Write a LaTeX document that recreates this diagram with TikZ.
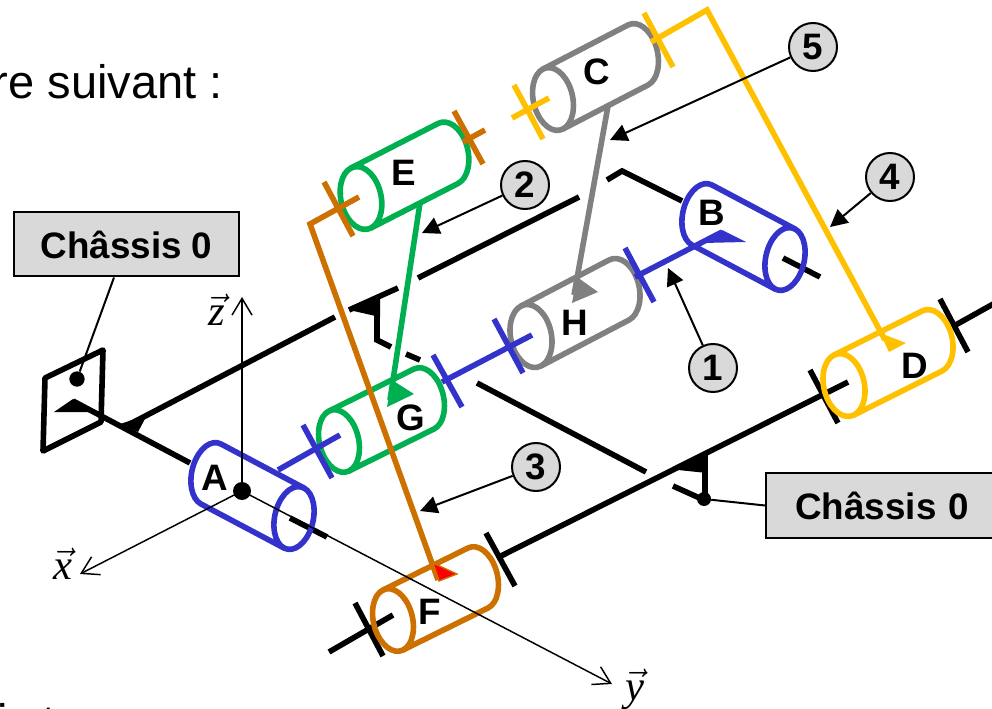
\documentclass[tikz,border=0pt]{standalone}
\usepackage{fix-cm}
\usepackage{fontspec}
\setmainfont{Liberation Sans}
\newfontfamily\tms{Liberation Serif}
\usetikzlibrary{arrows.meta}
\definecolor{cblue}{HTML}{3333CC}
\definecolor{cgreen}{HTML}{00B050}
\definecolor{cgray}{HTML}{808080}
\definecolor{cyellow}{HTML}{FFC000}
\definecolor{corange}{HTML}{CC7000}
\definecolor{cbox}{HTML}{D9D9D9}
\newcommand{\cylbody}[7]{%
  \def\cx{#1}\def\cy{#2}\def\ax{#3}\def\ay{#4}\def\vx{#5}\def\vy{#6}%
  \pgfmathsetmacro{\ux}{0.21*#3}\pgfmathsetmacro{\uy}{0.21*#4}%
  \draw[mech,#7,line join=round]
    \PP{1}{0} .. controls \PP{1}{.5523} and \PP{.5523}{1} .. \PP{0}{1}
    .. controls \PP{-.5523}{1} and \PP{-1}{.5523} .. \PP{-1}{0}
    .. controls \PP{-1}{-.5523} and \PP{-.5523}{-1} .. \PP{0}{-1}
    .. controls \PP{.5523}{-1} and \PP{1}{-.5523} .. \PP{1}{0} -- cycle;
  \draw[mech,#7,line join=round]
    \PP{0}{1} -- \QQ{0}{1}
    .. controls \QQ{.5523}{1} and \QQ{1}{.5523} .. \QQ{1}{0}
    .. controls \QQ{1}{-.5523} and \QQ{.5523}{-1} .. \QQ{0}{-1}
    -- \PP{0}{-1};
}
\def\PP#1#2{({\cx+(#1)*\ux+(#2)*\vx},{\cy+(#1)*\uy+(#2)*\vy})}
\def\QQ#1#2{({\cx+\ax+(#1)*\ux+(#2)*\vx},{\cy+\ay+(#1)*\uy+(#2)*\vy})}
\tikzset{
  mech/.style={line width=4.2pt},
  thinline/.style={line width=1.5pt,black},
  leader/.style={line width=1.5pt,black,-{Triangle[length=13pt,width=13pt]}},
  axisline/.style={line width=1.1pt,black,-{Straight Barb[length=12.5pt,width=15pt,line width=1.1pt]}},
  letter/.style={font=\fontsize{27.6}{30}\selectfont\bfseries,inner sep=0pt},
  numcirc/.style={circle,draw=black,line width=1.5pt,fill=cbox,minimum size=36pt,inner sep=0pt,font=\fontsize{27.6}{30}\selectfont\bfseries},
  chassis/.style={draw=black,line width=1.5pt,fill=cbox,font=\fontsize{27.6}{30}\selectfont\bfseries,inner sep=0pt},
  vecl/.style={font=\fontsize{32}{34}\selectfont,inner sep=0pt},
  plain/.style={font=\fontsize{35.25}{38}\selectfont,inner sep=0pt}
}
\begin{document}
\begin{tikzpicture}[x=0.75pt,y=-0.75pt]
\useasboundingbox (0,0) rectangle (992,709);
% page text
\node[plain,anchor=base east] (topt) at (223,99) {re suivant :};
\node[plain,anchor=base west] (boti) at (-3,737) {i};
\node[plain,anchor=base west] (bott) at (42,738) {t};
% black frame lines
\draw[mech,black,line join=round] (45,378) -- (103,350) -- (101,422) -- (43,451) -- cycle;
\fill[black] (54,412) -- (73,399) -- (100,415) -- (97,412) -- cycle;
\draw[mech,black] (73,401) -- (190,463);
\fill[black] (120,424) -- (147,415) -- (138,432) -- cycle;
\draw[mech,black] (130,424) -- (335,317);
\draw[mech,black] (349,310) -- (398,288);
\fill[black] (349,310) -- (380,298) -- (380,317) -- cycle;
\draw[mech,black] (418,278) -- (579,197);
\draw[mech,black,line join=miter] (607,180) -- (622,171) -- (682,201);
\draw[mech,black,line join=miter] (377,298) -- (377,340) -- (391,347);
\draw[mech,black] (406,354) -- (420,360);
\draw[mech,black] (477,383) -- (646,472);
\draw[mech,black] (673,486) -- (704,500);
\draw[mech,black] (705,455) -- (705,499);
\fill[black] (678,470) -- (707,455) -- (707,473) -- cycle;
\draw[mech,black] (497,558) -- (848,382);
\draw[mech,black] (810,370) -- (838,423);
\draw[mech,black] (486,533) -- (515,586);
\draw[mech,black] (329,652) -- (393,615);
\draw[mech,black] (355,603) -- (383,656);
\draw[mech,black] (952,327) -- (995,303);
\draw[mech,black] (940,299) -- (968,352);
\draw[mech,black] (290,518) -- (327,537);
\draw[mech,black] (783,258) -- (820,277);
% cylinders
\cylbody{294}{518}{-83}{-44}{10}{-30}{cblue}
\cylbody{785}{259}{-83}{-44}{10}{-30}{cblue}
\cylbody{553}{99}{85}{-44}{-10}{-30}{cgray}
\cylbody{361}{198}{87}{-44.5}{-10}{-30}{cgreen}
\cylbody{531}{336}{88}{-46}{-10}{-30}{cgray}
\cylbody{339}{441}{85}{-42}{-10}{-30}{cgreen}
\cylbody{393}{620}{85}{-42}{-10}{-30}{corange}
\cylbody{844}{385}{88}{-44}{-10}{-30}{cyellow}
% blue shaft
\draw[mech,cblue] (278,470) -- (340,435);
\draw[mech,cblue] (303,425) -- (332,478);
\draw[mech,cblue] (442,382) -- (532,335);
\draw[mech,cblue] (433,355) -- (462,407);
\draw[mech,cblue] (494,319) -- (523,373);
\draw[mech,cblue] (635,277) -- (722,232);
\draw[mech,cblue] (625,248) -- (654,302);
\fill[cblue] (703,243) -- (722,230) -- (746,242) -- cycle;
% yellow
\draw[mech,cyellow] (514,85) -- (543,139);
\draw[mech,cyellow] (512,118) -- (549,98);
\draw[mech,cyellow] (644,13) -- (673,67);
\draw[mech,cyellow,line join=miter] (651,42) -- (707,10) -- (885,340);
\fill[cyellow] (880,333) -- (906,343) -- (889,352) -- cycle;
% orange
\draw[mech,corange] (324,182) -- (353,236);
\draw[mech,corange] (454,111) -- (483,164);
\draw[mech,corange] (463,142) -- (485,130);
\draw[mech,corange,line join=miter] (359,197) -- (310,224) -- (438,580);
\filldraw[red,draw=corange,line width=1pt] (433,563) -- (457,574) -- (439,581) -- cycle;
% green and gray stems
\draw[mech,cgreen] (420,203) -- (390,400);
\fill[cgreen] (392,380) -- (414,394) -- (387,407) -- cycle;
\draw[mech,cgray] (608,106) -- (574,295);
\fill[cgray] (577,277) -- (598,292) -- (572,303) -- cycle;
% axes
\node[circle,fill=black,minimum size=13.5pt,inner sep=0pt] (origin) at (242,491) {};
\coordinate (zend) at (242,297);
\coordinate (xend) at (80,574);
\coordinate (yend) at (612,684);
\draw[axisline] (origin.center) -- (zend);
\draw[axisline] (origin.center) -- (xend);
\draw[axisline] (origin.center) -- (yend);
\node[vecl] (zl) at (217,310) {$\vec{\mbox{\tms\itshape z}}$};
\node[vecl] (xl) at (63,564) {$\vec{\mbox{\tms\itshape x}}$};
\node[vecl] (yl) at (635,689) {$\vec{\mbox{\tms\itshape y}}$};
% letters
\node[letter] (A) at (215,478) {A};
\node[letter] (B) at (712,213) {B};
\node[letter] (C) at (597,72) {C};
\node[letter] (D) at (915,366) {D};
\node[letter] (E) at (404,173) {E};
\node[letter] (F) at (430,612) {F};
\node[letter] (G) at (411,418) {G};
\node[letter] (H) at (575,323) {H};
% chassis boxes
\node[chassis,minimum width=169pt,minimum height=48pt] (box1) at (126.5,244.5) {Châssis 0};
\node[chassis,minimum width=180pt,minimum height=48.5pt,anchor=west,text width=160pt,align=left] (box2) at (765,505.5) {\hspace{12pt}Châssis 0};
\node[circle,fill=black,minimum size=11.5pt,inner sep=0pt] (dot1) at (77,379) {};
\node[circle,fill=black,minimum size=10.5pt,inner sep=0pt] (dot2) at (704,499) {};
\draw[thinline] (box1.south -| 114,277) -- (dot1);
\draw[thinline] (box2.west) -- (dot2);
% numbered circles and leaders
\node[numcirc] (n1) at (713,368) {1};
\node[numcirc] (n2) at (525,185) {2};
\node[numcirc] (n3) at (536,467) {3};
\node[numcirc] (n4) at (890,177) {4};
\node[numcirc] (n5) at (813,47) {5};
\coordinate (t1) at (668,268);
\coordinate (t2) at (422,233);
\coordinate (t3) at (420,511);
\coordinate (t4) at (830,227);
\coordinate (t5) at (610,140);
\draw[leader] (n1) -- (t1);
\draw[leader] (n2) -- (t2);
\draw[leader] (n3) -- (t3);
\draw[leader] (n4) -- (t4);
\draw[leader] (n5) -- (t5);
\end{tikzpicture}
\end{document}
